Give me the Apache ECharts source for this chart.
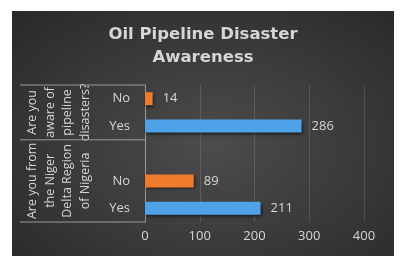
<!DOCTYPE html>
<html><head><meta charset="utf-8">
<script src="https://cdn.jsdelivr.net/npm/echarts@6/dist/echarts.min.js"></script>
<style>
html,body{margin:0;padding:0;background:#fff;width:401px;height:264px;overflow:hidden}
#c{position:absolute;left:12px;top:11px;width:382px;height:245px;
background:radial-gradient(ellipse 70% 75% at 52% 55%, #4c4c4c 0%, #3a3a3a 55%, #2a2a2a 100%);}
</style></head><body>
<div id="c"></div>
<script>
const titleText = 'Oil Pipeline Disaster\nAwareness';
const categories = ['No', 'Yes', '', 'No', 'Yes'];
const values = [14, 286, null, 89, 211];
const groupLabels = ['Are you\naware of\npipeline\ndisasters?', 'Are you from\nthe Niger\nDelta Region\nof Nigeria'];
const groupSpans = [[0, 1], [2, 4]];
const xMax = 400, xStep = 100;

const colorFor = c => c === 'No' ? '#ef7b2d' : '#4fa1e8';
const txt = '#d6d6d6';
const font = '"Open Sans", "Noto Sans", sans-serif';

const chart = echarts.init(document.getElementById('c'), null, {renderer: 'canvas'});
const option = {
  backgroundColor: 'transparent',
  animation: false,
  title: {
    text: titleText, left: 'center', top: 7,
    textStyle: {color: txt, fontSize: 16.5, fontWeight: 'bold', fontFamily: '"DejaVu Sans", sans-serif', lineHeight: 23}
  },
  grid: {left: 133, right: 30, top: 74, bottom: 34, containLabel: false},
  xAxis: {
    type: 'value', min: 0, max: xMax, interval: xStep,
    axisLine: {show: false}, axisTick: {show: false},
    splitLine: {lineStyle: {color: 'rgba(255,255,255,0.13)', width: 1}},
    axisLabel: {color: txt, fontSize: 13, fontFamily: font, margin: 8}
  },
  yAxis: {
    type: 'category', inverse: true, data: categories,
    axisTick: {show: false},
    axisLine: {show: true, lineStyle: {color: '#9a9a9a', width: 1}},
    axisLabel: {color: txt, fontSize: 13, fontFamily: font, margin: 15}
  },
  series: [{
    type: 'bar', barWidth: 13,
    data: values.map((v, i) => ({value: v, itemStyle: {color: colorFor(categories[i])}})),
    itemStyle: {shadowColor: 'rgba(0,0,0,0.55)', shadowBlur: 3, shadowOffsetX: 1, shadowOffsetY: 2},
    label: {show: true, position: 'right', distance: 10, color: txt, fontSize: 13, fontFamily: font}
  }]
};
chart.setOption(option);

// group labels and separators placed from the axis' own scale
const y = i => chart.convertToPixel({yAxisIndex: 0}, i);
const x0 = chart.convertToPixel({xAxisIndex: 0}, 0);
const bw = y(1) - y(0);
const lineLeft = 8;
const elements = [];
const bounds = new Set();
groupSpans.forEach(([a, b], gi) => {
  const top = y(a) - bw / 2, bot = y(b) + bw / 2;
  bounds.add(Math.round(top * 10) / 10); bounds.add(Math.round(bot * 10) / 10);
  elements.push({
    type: 'text', x: 47, y: (top + bot) / 2, rotation: Math.PI / 2,
    style: {text: groupLabels[gi], fill: txt, fontSize: 12.5, fontFamily: font, lineHeight: 17.5,
      align: 'center', verticalAlign: 'middle'}
  });
});
bounds.forEach(by => {
  elements.push({type: 'line', shape: {x1: lineLeft, y1: by, x2: x0, y2: by},
    style: {stroke: '#9a9a9a', lineWidth: 1}});
});
chart.setOption({graphic: {elements}});
</script>
</body></html>
